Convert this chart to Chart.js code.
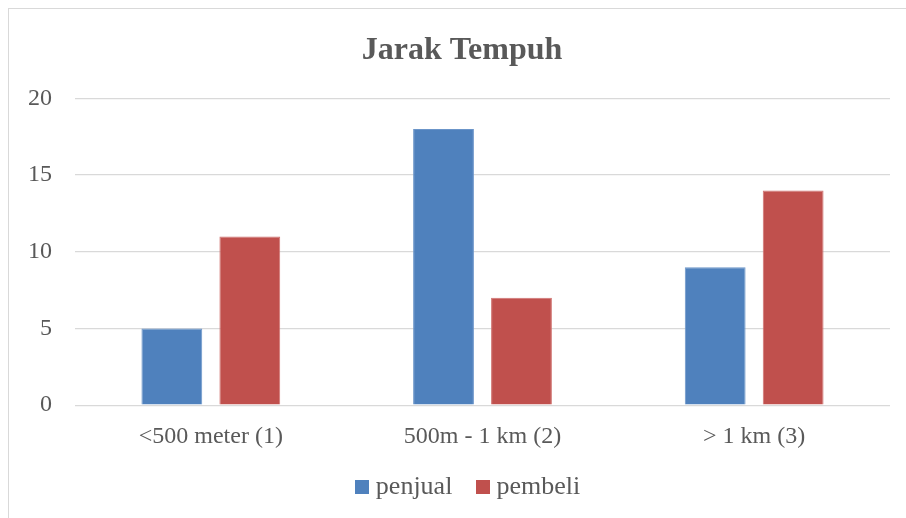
<!DOCTYPE html>
<html>
<head>
<meta charset="utf-8">
<script src="https://cdn.jsdelivr.net/npm/chart.js@4/dist/chart.umd.min.js"></script>
<style>
html,body{margin:0;padding:0;background:#fff;overflow:hidden;}
#frame{position:absolute;left:8px;top:8px;width:1200px;height:1000px;border:1px solid #d9d9d9;box-sizing:border-box;}
#wrap{position:absolute;left:0;top:0;width:906px;height:518px;}
</style>
</head>
<body>
<div id="frame"></div>
<div id="wrap"><canvas id="c" width="906" height="518"></canvas></div>
<script>
const categories = ["<500 meter (1)", "500m - 1 km (2)", "> 1 km (3)"];
const penjual = [5, 18, 9];
const pembeli = [11, 7, 14];
const yTicks = [0, 5, 10, 15, 20];
const seriesColors = ['#4f81bd', '#c0504d'];

const FONT = "'Liberation Serif', 'Times New Roman', serif";
const TXT = "#595959";

function swatch(color) {
  const c = document.createElement('canvas');
  c.width = 14; c.height = 14;
  const g = c.getContext('2d');
  g.fillStyle = color; g.fillRect(0, 0, 14, 14);
  return c;
}
const swatches = seriesColors.map(swatch);

const shiftPlugin = {
  id: 'shift',
  afterLayout(chart) {
    const t = chart.titleBlock;
    if (t) { t.left += 17; t.right += 17; }
    const l = chart.legend;
    if (l) { l.left += 26; l.right += 26; l.top -= 24; l.bottom = chart.height - 2; }
  }
};

new Chart(document.getElementById('c'), {
  type: 'bar',
  data: {
    labels: categories,
    datasets: [
      { label: 'penjual', data: penjual, backgroundColor: seriesColors[0], borderColor: '#6b95c9', borderWidth: 1,
        categoryPercentage: 0.574, barPercentage: 0.78 },
      { label: 'pembeli', data: pembeli, backgroundColor: seriesColors[1], borderColor: '#d07270', borderWidth: 1,
        categoryPercentage: 0.574, barPercentage: 0.78 }
    ]
  },
  plugins: [shiftPlugin],
  options: {
    responsive: false,
    animation: false,
    events: [],
    layout: { padding: { left: 0, right: 16, top: 0, bottom: 8 } },
    plugins: {
      title: {
        display: true, text: 'Jarak Tempuh', color: TXT,
        font: { family: FONT, size: 32, weight: 'bold', lineHeight: 1.2 },
        padding: { top: 32, bottom: 28 }
      },
      legend: {
        display: true, position: 'bottom', maxHeight: 42,
        labels: {
          color: TXT, font: { family: FONT, size: 26 },
          usePointStyle: true, pointStyleWidth: 1, boxHeight: 14, padding: 30,
          generateLabels: (chart) => {
            const items = Chart.defaults.plugins.legend.labels.generateLabels(chart);
            items.forEach((it, i) => { it.pointStyle = swatches[i]; });
            return items;
          }
        }
      },
      tooltip: { enabled: false }
    },
    scales: {
      x: {
        grid: { display: false, drawTicks: false },
        border: { display: false },
        ticks: { color: TXT, font: { family: FONT, size: 24 }, padding: 17, maxRotation: 0 }
      },
      y: {
        min: 0, max: 20,
        afterFit: s => { s.width = 75; },
        afterBuildTicks: s => { s.ticks = yTicks.map(v => ({ value: v })); },
        grid: { color: '#d9d9d9', lineWidth: 1.3, drawTicks: false },
        border: { display: false },
        ticks: { color: TXT, font: { family: FONT, size: 24 }, padding: 23 }
      }
    }
  }
});
</script>
</body>
</html>
